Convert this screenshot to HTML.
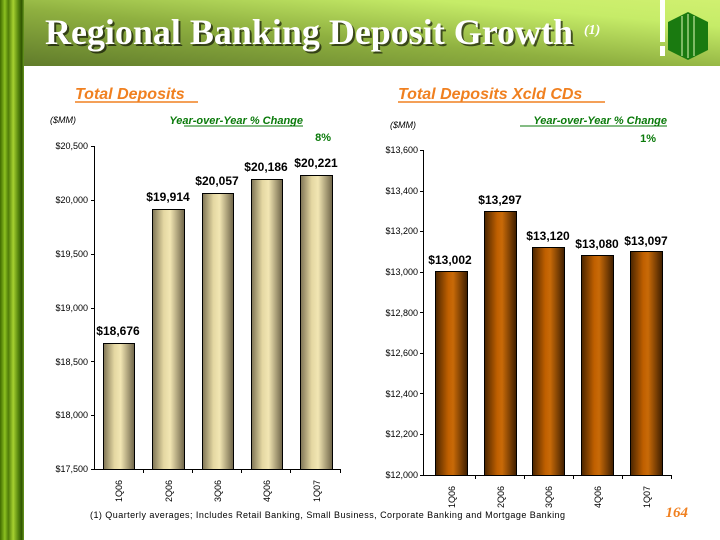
<!DOCTYPE html>
<html><head><style>
body{margin:0;width:720px;height:540px;overflow:hidden;background:#fff}
svg{display:block}
</style></head><body>
<svg width="720" height="540" viewBox="0 0 720 540" xmlns="http://www.w3.org/2000/svg" font-family="Liberation Sans, sans-serif">
<defs>
<linearGradient id="hdr" x1="0" y1="1" x2="1" y2="0">
<stop offset="0" stop-color="#5f7a2a"/><stop offset="0.45" stop-color="#8fb040"/><stop offset="0.8" stop-color="#c6ec68"/><stop offset="1" stop-color="#d0f070"/></linearGradient>
<linearGradient id="side" x1="0" x2="1">
<stop offset="0" stop-color="#3f6a00"/><stop offset="0.2" stop-color="#8cc020"/><stop offset="0.35" stop-color="#4f7d08"/><stop offset="0.55" stop-color="#a6d030"/><stop offset="0.75" stop-color="#5a8a10"/><stop offset="0.9" stop-color="#2f5500"/><stop offset="1" stop-color="#6a9a20"/></linearGradient>
<linearGradient id="tan" x1="0" x2="1">
<stop offset="0" stop-color="#7e7455"/><stop offset="0.35" stop-color="#e4d7a2"/><stop offset="0.55" stop-color="#f2e6b3"/><stop offset="1" stop-color="#6e6448"/></linearGradient>
<linearGradient id="brn" x1="0" x2="1">
<stop offset="0" stop-color="#4a2500"/><stop offset="0.4" stop-color="#c06000"/><stop offset="0.55" stop-color="#c86a08"/><stop offset="1" stop-color="#3e1e00"/></linearGradient>
</defs>
<rect x="0" y="0" width="720" height="66" fill="url(#hdr)"/>
<rect x="0" y="0" width="24" height="540" fill="url(#side)"/>
<rect x="660" y="0" width="5" height="42" fill="#fff"/>
<rect x="660" y="46" width="5" height="10" fill="#fff"/>
<polygon points="688,12 708,22 708,50 688,60 668,50 668,22" fill="#1a7a10"/>
<g stroke="#9fd080" stroke-width="1.5"><line x1="682" y1="16" x2="682" y2="56"/><line x1="688" y1="14" x2="688" y2="58"/><line x1="694" y1="16" x2="694" y2="56"/></g>
<text x="47" y="46" font-family="Liberation Serif, serif" font-weight="bold" font-size="36" fill="#000" opacity="0.6" textLength="528" lengthAdjust="spacingAndGlyphs">Regional Banking Deposit Growth</text>
<text x="45" y="44" font-family="Liberation Serif, serif" font-weight="bold" font-size="36" fill="#fff" textLength="528" lengthAdjust="spacingAndGlyphs">Regional Banking Deposit Growth</text>
<text x="584" y="34" font-family="Liberation Serif, serif" font-style="italic" font-weight="bold" font-size="14" fill="#fff">(1)</text>

<text x="75" y="99" font-size="16" font-weight="bold" font-style="italic" fill="#f08020">Total Deposits</text>
<line x1="75" y1="102" x2="198" y2="102" stroke="#f08020" stroke-width="1.5"/>
<text x="398" y="99" font-size="16" font-weight="bold" font-style="italic" fill="#f08020">Total Deposits Xcld CDs</text>
<line x1="398" y1="102" x2="605" y2="102" stroke="#f08020" stroke-width="1.5"/>
<text x="50" y="123" font-size="9" font-style="italic">($MM)</text>
<text x="390" y="128" font-size="9" font-style="italic">($MM)</text>
<text x="303" y="124" font-size="11" font-weight="bold" font-style="italic" fill="#0a7a0a" text-anchor="end">Year-over-Year % Change</text>
<line x1="184" y1="126" x2="303" y2="126" stroke="#0a7a0a"/>
<text x="331" y="141" font-size="11" font-weight="bold" fill="#0a7a0a" text-anchor="end">8%</text>
<text x="667" y="124" font-size="11" font-weight="bold" font-style="italic" fill="#0a7a0a" text-anchor="end">Year-over-Year % Change</text>
<line x1="520" y1="126" x2="667" y2="126" stroke="#0a7a0a"/>
<text x="656" y="142" font-size="11" font-weight="bold" fill="#0a7a0a" text-anchor="end">1%</text>

<g font-size="9" text-anchor="end">
<text x="88" y="149">$20,500</text><text x="88" y="203">$20,000</text><text x="88" y="257">$19,500</text><text x="88" y="311">$19,000</text><text x="88" y="365">$18,500</text><text x="88" y="418">$18,000</text><text x="88" y="472">$17,500</text>
</g>
<g stroke="#000" fill="none">
<line x1="94.5" y1="146" x2="94.5" y2="469"/><line x1="94" y1="469.5" x2="341" y2="469.5"/>
<path d="M91 146.5h3M91 200.5h3M91 254.5h3M91 308.5h3M91 361.5h3M91 415.5h3M91 469.5h3"/>
<path d="M143.5 469v4M192.5 469v4M241.5 469v4M290.5 469v4M340.5 469v4"/>
</g>
<g stroke="#000" fill="url(#tan)">
<rect x="103.5" y="343.5" width="31" height="126"/>
<rect x="152.5" y="209.5" width="32" height="260"/>
<rect x="202.5" y="193.5" width="31" height="276"/>
<rect x="251.5" y="179.5" width="31" height="290"/>
<rect x="300.5" y="175.5" width="32" height="294"/>
</g>
<g font-size="12" font-weight="bold" text-anchor="middle">
<text x="118" y="335">$18,676</text><text x="168" y="201">$19,914</text><text x="217" y="185">$20,057</text><text x="266" y="171">$20,186</text><text x="316" y="167">$20,221</text>
</g>
<g font-size="9">
<text transform="translate(122,502) rotate(-90)">1Q06</text><text transform="translate(172,502) rotate(-90)">2Q06</text><text transform="translate(221,502) rotate(-90)">3Q06</text><text transform="translate(270,502) rotate(-90)">4Q06</text><text transform="translate(320,502) rotate(-90)">1Q07</text>
</g>

<g font-size="9" text-anchor="end">
<text x="418" y="153">$13,600</text><text x="418" y="194">$13,400</text><text x="418" y="234">$13,200</text><text x="418" y="275">$13,000</text><text x="418" y="316">$12,800</text><text x="418" y="356">$12,600</text><text x="418" y="397">$12,400</text><text x="418" y="437">$12,200</text><text x="418" y="478">$12,000</text>
</g>
<g stroke="#000" fill="none">
<line x1="423.5" y1="150" x2="423.5" y2="475"/><line x1="423" y1="475.5" x2="672" y2="475.5"/>
<path d="M420 150.5h3M420 191.5h3M420 231.5h3M420 272.5h3M420 312.5h3M420 353.5h3M420 393.5h3M420 434.5h3M420 475.5h3"/>
<path d="M475.5 475v4M524.5 475v4M573.5 475v4M622.5 475v4M671.5 475v4"/>
</g>
<g stroke="#000" fill="url(#brn)">
<rect x="435.5" y="271.5" width="32" height="204"/>
<rect x="484.5" y="211.5" width="32" height="264"/>
<rect x="532.5" y="247.5" width="32" height="228"/>
<rect x="581.5" y="255.5" width="32" height="220"/>
<rect x="630.5" y="251.5" width="32" height="224"/>
</g>
<g font-size="12" font-weight="bold" text-anchor="middle">
<text x="450" y="264">$13,002</text><text x="500" y="204">$13,297</text><text x="548" y="240">$13,120</text><text x="597" y="248">$13,080</text><text x="646" y="245">$13,097</text>
</g>
<g font-size="9">
<text transform="translate(455,508) rotate(-90)">1Q06</text><text transform="translate(504,508) rotate(-90)">2Q06</text><text transform="translate(552,508) rotate(-90)">3Q06</text><text transform="translate(601,508) rotate(-90)">4Q06</text><text transform="translate(650,508) rotate(-90)">1Q07</text>
</g>

<text x="90" y="518" font-size="9" textLength="475" lengthAdjust="spacing">(1) Quarterly averages; Includes Retail Banking, Small Business, Corporate Banking and Mortgage Banking</text>
<text x="688" y="517" font-family="Liberation Serif, serif" font-size="15" font-weight="bold" font-style="italic" fill="#f08020" text-anchor="end">164</text>
</svg>
</body></html>
